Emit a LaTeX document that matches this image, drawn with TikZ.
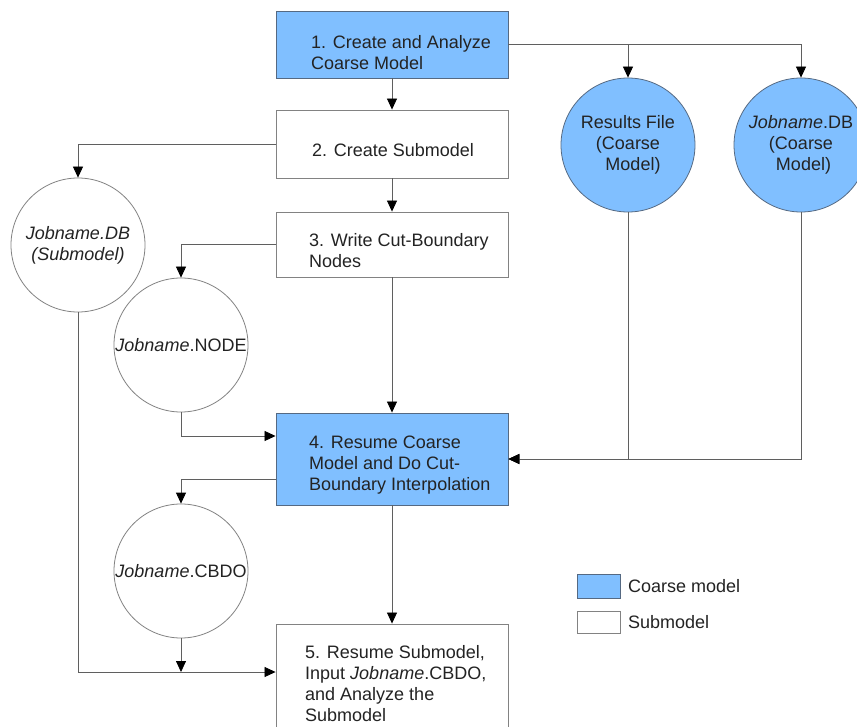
\documentclass[tikz,border=0pt]{standalone}
\usepackage{fontspec}
\setmainfont{Liberation Sans}
\usetikzlibrary{arrows.meta}
\definecolor{cblue}{RGB}{128,191,255}
\definecolor{cedge}{RGB}{85,105,130}
\definecolor{wedge}{RGB}{130,130,130}
\definecolor{lcol}{RGB}{95,95,95}
\definecolor{tcol}{RGB}{35,35,35}
\begin{document}
\begin{tikzpicture}[x=1pt,y=-1pt,
  every node/.style={font=\fontsize{18}{21}\selectfont, text=tcol},
  cbox/.style={draw=cedge, fill=cblue, line width=0.9pt, minimum width=232pt, inner sep=0pt},
  sbox/.style={draw=wedge, fill=white, line width=0.9pt, minimum width=232pt, inner sep=0pt},
  ccirc/.style={circle, draw=cedge, fill=cblue, line width=0.8pt, minimum size=134pt, inner sep=0pt, align=center},
  scirc/.style={circle, draw=wedge, fill=white, line width=0.8pt, minimum size=134pt, inner sep=0pt, align=center},
  lbl/.style={anchor=north west, inner sep=0pt, align=left},
  conn/.style={draw=lcol, line width=0.8pt},
  arr/.style={conn, -{Triangle[length=11pt,width=10pt,color=black]}}]
\useasboundingbox (0,0) rectangle (857,727);
\clip (0,0) rectangle (857,727);
\fill[white] (0,0) rectangle (857,727);

% process boxes
\node[cbox, minimum height=67pt] (b1) at (392,44.5) {};
\node[sbox, minimum height=68pt] (b2) at (392,144) {};
\node[sbox, minimum height=65pt] (b3) at (392,244.5) {};
\node[cbox, minimum height=92pt] (b4) at (392,459) {};
\node[sbox, minimum height=126pt] (b5) at (392,687) {};

\node[lbl] (t1) at (311,35.3) {1. Create and Analyze\\Coarse Model};
\node[lbl] (t2) at (312,143.3) {2. Create Submodel};
\node[lbl] (t3) at (309,233.5) {3. Write Cut-Boundary\\Nodes};
\node[lbl] (t4) at (309,435.5) {4. Resume Coarse\\Model and Do Cut-\\Boundary Interpolation};
\node[lbl] (t5) at (305,645.5) {5. Resume Submodel,\\Input \textit{Jobname}.CBDO,\\and Analyze the\\Submodel};

% files
\node[ccirc] (rf) at (628,145) {Results File\\(Coarse\\\ \ Model)};
\node[ccirc] (dbc) at (801,145) {\textit{Jobname}.DB\\(Coarse\\\ Model)};
\node[scirc] (dbs) at (78,245) {\textit{Jobname.DB}\\\textit{(Submodel)}};
\node[scirc] (nd) at (181,345) {\textit{Jobname}.NODE};
\node[scirc] (cb) at (181,571) {\textit{Jobname}.CBDO};

% connectors
\draw[arr] (b1.south) -- (b2.north);
\draw[arr] (b1.east) -| (dbc.north);
\draw[arr] (b1.east -| rf.north) -- (rf.north);
\draw[arr] (b2.west) -| (dbs.north);
\draw[arr] (b2.south) -- (b3.north);
\draw[arr] (b3.west) -| (nd.north);
\draw[arr] (b3.south) -- (b4.north);
\draw[arr] (nd.south) |- ([yshift=23pt]b4.west);
\draw[arr] (rf.south) |- (b4.east);
\draw[arr] (dbc.south) |- (b4.east);
\draw[arr] ([yshift=-20pt]b4.west) -| (cb.north);
\draw[arr] (b4.south) -- (b5.north);
\coordinate (b5in) at ([yshift=15pt]b5.west);
\draw[arr] (dbs.south) |- (b5in);
\coordinate (cbm) at (cb.south |- b5in);
\draw[arr] (cb.south) -- (cbm);

% legend
\node[cbox, minimum width=43pt, minimum height=24pt] (lg1) at (598.5,586) {};
\node[sbox, minimum width=43pt, minimum height=22pt] (lg2) at (598.5,622) {};
\node[anchor=west, inner sep=0pt] (lt1) at (628,586) {Coarse model};
\node[anchor=west, inner sep=0pt] (lt2) at (628,622) {Submodel};
\end{tikzpicture}
\end{document}
